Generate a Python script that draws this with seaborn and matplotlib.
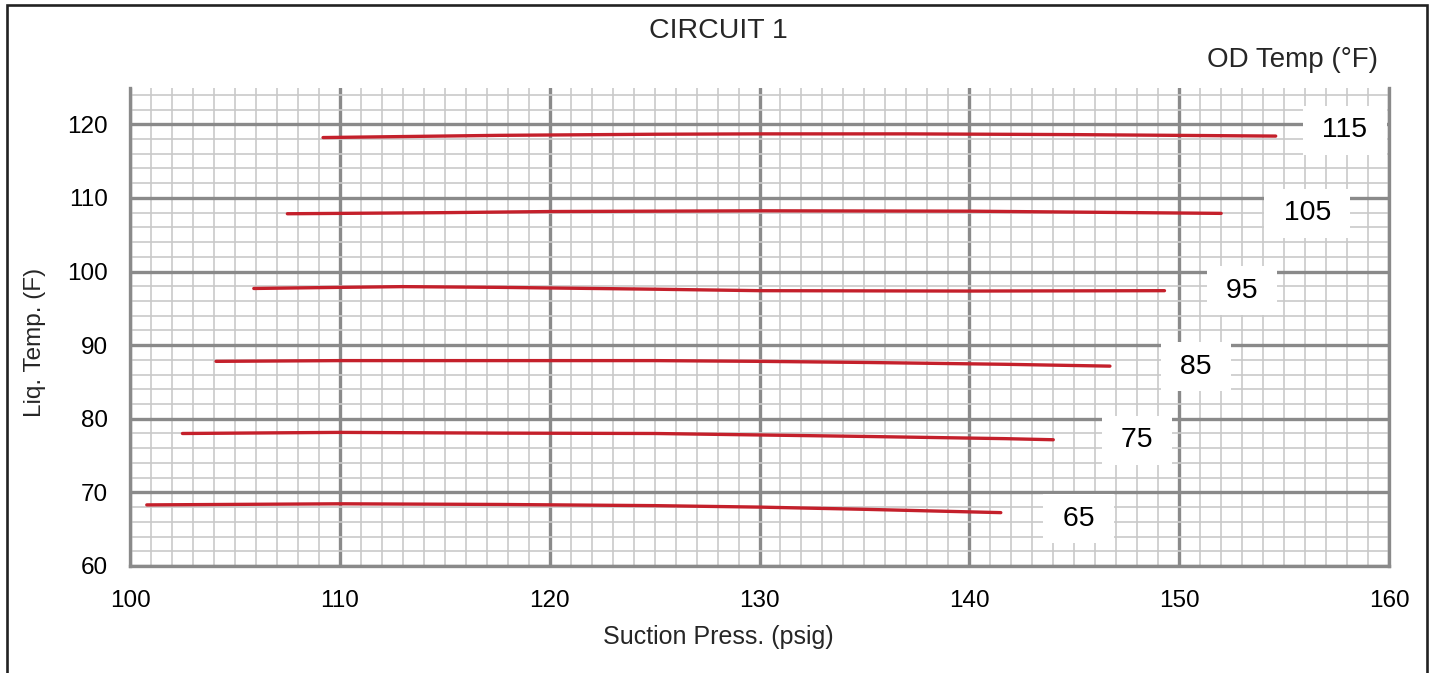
import numpy as np
import pandas as pd
import matplotlib
matplotlib.use("Agg")
import matplotlib.pyplot as plt
from matplotlib.patches import Rectangle
from matplotlib.ticker import MultipleLocator
import seaborn as sns

# OD temp curves (suction press psig -> liquid temp F)
od_temps = [65, 75, 85, 95, 105, 115]

press_65 = [100.8, 110, 117.6, 125, 130, 135, 141.5]
liq_65 = [68.3, 68.45, 68.36, 68.2, 68.0, 67.7, 67.25]

press_75 = [102.5, 110, 117.6, 125, 130, 135, 141.7, 144.0]
liq_75 = [78.0, 78.15, 78.05, 78.0, 77.8, 77.6, 77.3, 77.15]

press_85 = [104.1, 110, 117.6, 125, 130, 135, 141.7, 146.7]
liq_85 = [87.8, 87.9, 87.9, 87.9, 87.8, 87.65, 87.4, 87.15]

press_95 = [105.9, 110, 113, 117.6, 125, 130, 140, 149.3]
liq_95 = [97.7, 97.85, 97.95, 97.85, 97.6, 97.4, 97.35, 97.4]

press_105 = [107.5, 115, 120, 130, 140, 148, 152.0]
liq_105 = [107.85, 108.0, 108.15, 108.25, 108.2, 108.0, 107.9]

press_115 = [109.2, 117.6, 125, 130, 137, 145, 154.6]
liq_115 = [118.2, 118.5, 118.65, 118.7, 118.7, 118.6, 118.4]

# curve label positions
label_x = [145.2, 148.0, 150.8, 153.0, 156.1, 157.9]
label_y = [66.4, 77.05, 87.1, 97.4, 107.9, 119.2]

pressures = [press_65, press_75, press_85, press_95, press_105, press_115]
liq_temps = [liq_65, liq_75, liq_85, liq_95, liq_105, liq_115]

rows = []
for od, px, ly in zip(od_temps, pressures, liq_temps):
    for a, b in zip(px, ly):
        rows.append({"od": od, "press": a, "liq": b})
df = pd.DataFrame(rows)

sns.set_style("white")
plt.rcParams["font.family"] = ["Liberation Sans", "DejaVu Sans"]

red = "#c4202b"
major_c = "#8a8a8a"
minor_c = "#c9c9c9"

fig = plt.figure(figsize=(14.32, 6.73), dpi=100)
ax = fig.add_axes([130/1432, 1-566/673, (1389-130)/1432, (566-87.5)/673])

ax.set_xlim(100, 160)
ax.set_ylim(60, 125)
ax.xaxis.set_major_locator(MultipleLocator(10))
ax.xaxis.set_minor_locator(MultipleLocator(1))
ax.yaxis.set_major_locator(MultipleLocator(10))
ax.yaxis.set_minor_locator(MultipleLocator(2))
ax.grid(which="minor", color=minor_c, linewidth=1.2, zorder=0)
ax.grid(which="major", color=major_c, linewidth=2.4, zorder=1)
ax.set_axisbelow(True)

sns.lineplot(data=df, x="press", y="liq", hue="od", units="od", estimator=None,
             palette={k: red for k in od_temps}, linewidth=2.4, legend=False,
             sort=True, ax=ax, zorder=3)

for od, tx, ty in zip(od_temps, label_x, label_y):
    ax.text(tx, ty, f" {od} ", fontsize=20.5, ha="center", va="center", zorder=4,
            color="black",
            bbox=dict(boxstyle="square,pad=0.4", fc="white", ec="none"))

ax.spines["top"].set_visible(False)
for side in ["left", "bottom", "right"]:
    ax.spines[side].set_color(major_c)
    ax.spines[side].set_linewidth(2.4)

ax.tick_params(axis="both", which="both", length=0, labelsize=17.5, colors="black")
ax.tick_params(axis="x", pad=17)
ax.tick_params(axis="y", pad=16)
ax.set_xlabel("")
ax.set_ylabel("")

fig.text(718/1432, 1-637/673, "Suction Press. (psig)", fontsize=18, ha="center", va="center")
fig.text(35/1432, 1-342/673, "Liq. Temp. (F)", fontsize=17.5, ha="center", va="center", rotation=90)
fig.text(718/1432, 1-31/673, "CIRCUIT 1", fontsize=20.5, ha="center", va="center")
fig.text(1378/1432, 1-60/673, "OD Temp (°F)", fontsize=20, ha="right", va="center")

fig.patches.append(Rectangle((7.5/1432, -0.05), (1427-7.5)/1432, 1.05-5/673,
                             transform=fig.transFigure, fill=False,
                             ec="#222222", lw=1.9))

fig.savefig("out.png", dpi=100)
